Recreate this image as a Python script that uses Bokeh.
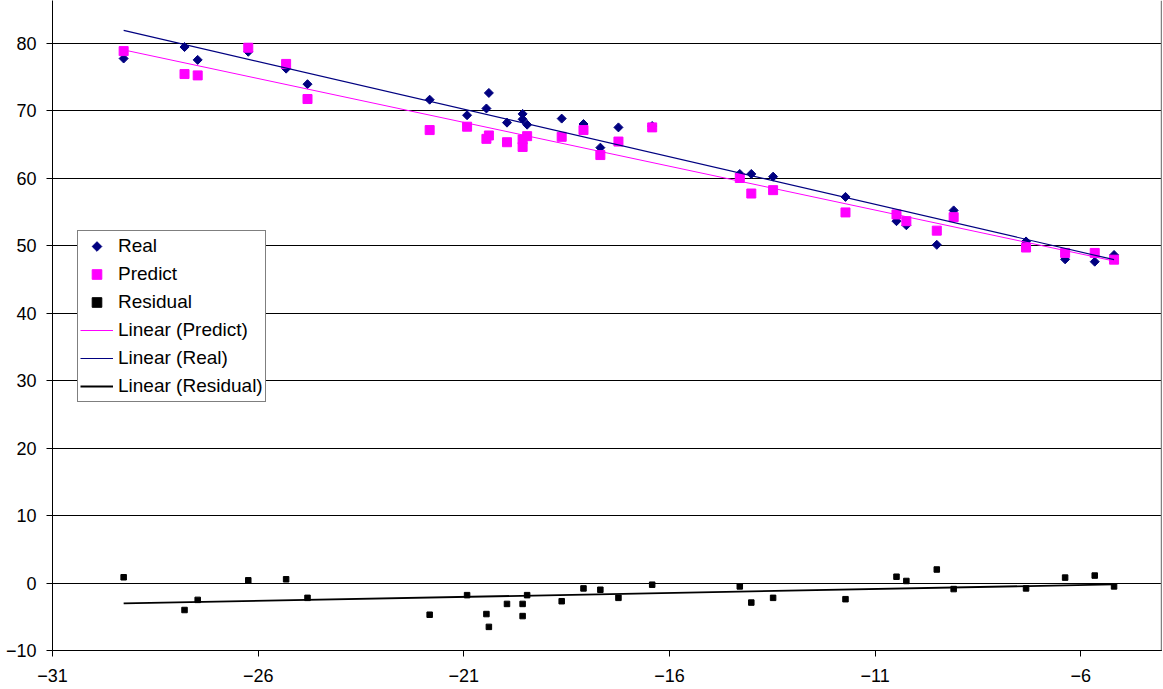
import numpy as np
from bokeh.plotting import figure
from bokeh.models import FixedTicker, Range1d, Legend, LegendItem, Span
from bokeh.embed import file_html
from bokeh.resources import INLINE

# ---- data ----
x_vals = [-29.27, -27.79, -27.47, -26.24, -25.32, -24.80, -21.83, -20.92, -20.45, -20.39,
          -19.95, -19.57, -19.57, -19.46, -18.62, -18.09, -17.68, -17.24, -16.42, -14.29,
          -14.01, -13.48, -11.72, -10.48, -10.24, -9.50, -9.09, -7.33, -6.38, -5.66, -5.19]
real = [77.7, 79.4, 77.5, 78.7, 76.2, 73.9, 71.6, 69.3, 70.3, 72.6,
        68.2, 69.5, 68.7, 67.9, 68.8, 68.0, 64.5, 67.5, 67.7, 60.6,
        60.6, 60.2, 57.2, 53.6, 53.0, 50.1, 55.2, 50.6, 47.95, 47.6, 48.6]
predict = [78.8, 75.4, 75.2, 79.3, 76.9, 71.7, 67.1, 67.6, 65.8, 66.3,
           65.3, 64.6, 65.7, 66.2, 66.1, 67.1, 63.4, 65.4, 67.5, 60.0,
           57.7, 58.2, 54.9, 54.6, 53.6, 52.2, 54.2, 49.7, 48.9, 48.9, 47.9]
residual = [0.85, -4.0, -2.5, 0.4, 0.55, -2.2, -4.7, -1.8, -4.6, -6.5,
            -3.1, -4.9, -3.1, -1.8, -2.7, -0.8, -1.0, -2.2, -0.25, -0.5,
            -2.9, -2.2, -2.4, 0.93, 0.3, 2.0, -0.9, -0.8, 0.8, 1.1, -0.5]
x_ticks = [-31, -26, -21, -16, -11, -6]
y_ticks = [-10, 0, 10, 20, 30, 40, 50, 60, 70, 80]

# linear trendlines (least squares fits of each series)
xs = np.array(x_vals)
x_line = [xs.min(), xs.max()]
def fit(y):
    k, b = np.polyfit(xs, np.array(y), 1)
    return [k * x_line[0] + b, k * x_line[1] + b]

FONT = "Liberation Sans"
W, H = 1162, 688
LEFT, BOTTOM = 52, 38
PX_X = 41.13   # pixels per x unit
PX_Y = 6.75    # pixels per y unit
X_END = -31 + (W - LEFT) / PX_X
Y_END = -10 + (H - BOTTOM) / PX_Y

p = figure(width=W, height=H, output_backend="svg", toolbar_location=None,
           x_range=Range1d(-31, X_END), y_range=Range1d(-10, Y_END),
           min_border_left=LEFT, min_border_right=0, min_border_top=0, min_border_bottom=BOTTOM,
           background_fill_color="white", border_fill_color="white")
p.outline_line_color = None

# axes
for ax in (p.xaxis[0], p.yaxis[0]):
    ax.axis_line_color = "black"
    ax.axis_line_width = 1
    ax.major_tick_line_color = "black"
    ax.major_tick_in = 0
    ax.major_tick_out = 6
    ax.minor_tick_line_color = None
    ax.major_label_text_font = FONT
    ax.major_label_text_color = "black"
    ax.major_label_text_font_size = "18px"
p.xaxis.ticker = FixedTicker(ticks=x_ticks)
p.yaxis.ticker = FixedTicker(ticks=y_ticks)
p.xaxis.major_label_standoff = 12
p.yaxis.major_label_standoff = 10

p.xgrid.grid_line_color = None
p.ygrid.ticker = FixedTicker(ticks=y_ticks)
p.ygrid.grid_line_color = "black"
p.ygrid.grid_line_width = 1

# right border of the plot area
p.add_layout(Span(location=-31 + 1109 / PX_X, dimension="height",
                  line_color="#808080", line_width=1.5))

r_real = p.ngon(x=x_vals, y=real, radius=4.5, radius_units="screen", n=4,
                fill_color="#000080", line_color="#000080")
r_pred = p.scatter(x_vals, predict, marker="square", size=9,
                   fill_color="#FF00FF", line_color="#FF00FF")
r_res = p.scatter(x_vals, residual, marker="square", size=5.5,
                  fill_color="black", line_color="black")

l_pred = p.line(x_line, fit(predict), line_color="#FF00FF", line_width=1)
l_real = p.line(x_line, fit(real), line_color="#000080", line_width=1.2)
l_res = p.line(x_line, fit(residual), line_color="black", line_width=1.8)

legend = Legend(items=[
    LegendItem(label="Real", renderers=[r_real]),
    LegendItem(label="Predict", renderers=[r_pred]),
    LegendItem(label="Residual", renderers=[r_res]),
    LegendItem(label="Linear (Predict)", renderers=[l_pred]),
    LegendItem(label="Linear (Real)", renderers=[l_real]),
    LegendItem(label="Linear (Residual)", renderers=[l_res]),
], location=(25, 248))
legend.border_line_color = "black"
legend.border_line_width = 1
legend.background_fill_color = "white"
legend.background_fill_alpha = 1
legend.label_text_font = FONT
legend.label_text_font_size = "19px"
legend.label_text_color = "black"
legend.glyph_width = 33
legend.glyph_height = 24
legend.label_height = 26
legend.spacing = 2
legend.padding = 2
legend.margin = 0
legend.label_standoff = 5
p.add_layout(legend)

open("out.html", "w").write(file_html(p, INLINE))
